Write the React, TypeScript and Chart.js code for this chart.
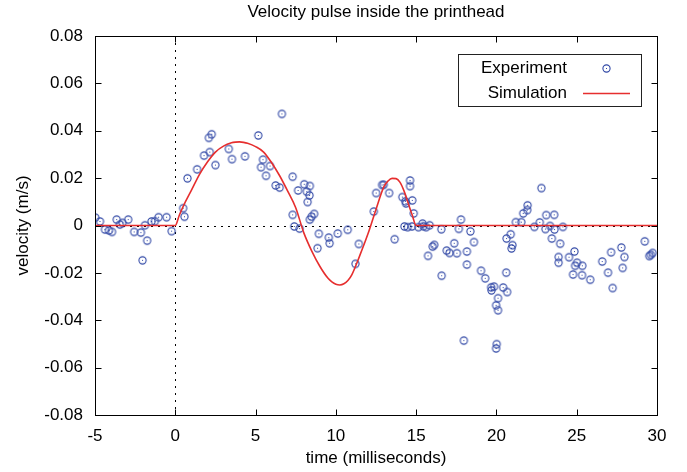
import React, { useEffect, useRef } from "react";
import { Chart, registerables } from "chart.js";

Chart.register(...registerables);

const chartTitle = "Velocity pulse inside the printhead";
const xAxisTitle = "time (milliseconds)";
const yAxisTitle = "velocity (m/s)";
const seriesNames = ["Experiment", "Simulation"];

const xTicks = [-5, 0, 5, 10, 15, 20, 25, 30];
const xTickLabels = ["-5", "0", "5", "10", "15", "20", "25", "30"];
const yTicks = [-0.08, -0.06, -0.04, -0.02, 0, 0.02, 0.04, 0.06, 0.08];
const yTickLabels = ["-0.08", "-0.06", "-0.04", "-0.02", "0", "0.02", "0.04", "0.06", "0.08"];

const expTime = [
  -4.98, -4.69, -4.38, -4.13, -3.94, -3.65, -3.45, -3.28, -2.93, -2.56,
  -2.14, -2.04, -1.89, -1.75, -1.48, -1.27, -1.04, -0.54, -0.23, 0.49,
  0.57, 0.76, 1.36, 1.79, 2.15, 2.09, 2.27, 2.5, 3.33, 3.53,
  4.34, 5.17, 6.64, 5.46, 5.34, 5.9, 5.65, 6.25, 6.5, 7.31,
  7.65, 8.03, 8.38, 8.19, 8.36, 8.24, 7.31, 8.65, 8.49, 8.38,
  7.41, 7.74, 8.94, 8.86, 9.56, 9.61, 10.12, 10.74, 11.43, 11.22,
  12.36, 12.51, 12.88, 12.98, 13.32, 13.66, 14.14, 14.33, 14.37, 14.62,
  14.62, 14.76, 14.85, 14.27, 14.47, 14.74, 15.14, 15.4, 15.45, 15.62,
  15.84, 16.57, 16.03, 16.13, 15.74, 16.59, 16.9, 17.08, 17.37, 17.54,
  17.79, 17.66, 18.16, 18.16, 18.38, 18.6, 17.97, 19.04, 19.3, 19.67,
  19.85, 19.69, 20.1, 19.98, 20.1, 20.02, 19.98, 20.42, 20.67, 20.61,
  20.63, 20.89, 21.0, 20.94, 21.21, 21.55, 21.67, 21.92, 21.94, 22.8,
  22.36, 22.7, 23.05, 23.1, 23.34, 23.6, 23.62, 23.45, 24.14, 23.97,
  23.87, 23.87, 24.52, 24.86, 24.9, 25.02, 24.77, 25.35, 25.33, 25.84,
  26.59, 26.95, 27.14, 27.24, 27.78, 27.97, 27.86, 29.24, 29.52, 29.62,
  29.73,
];
const expVelocity = [
  0.0033, 0.0017, -0.0017, -0.0021, -0.0027, 0.0025, 0.0004, 0.0011, 0.0025, -0.0027,
  -0.003, -0.0147, 0.0001, -0.0064, 0.0017, 0.0018, 0.0035, 0.0035, -0.0024, 0.0073,
  0.0037, 0.0199, 0.0237, 0.0295, 0.031, 0.037, 0.0385, 0.0255, 0.0323, 0.028,
  0.0292, 0.038, 0.0471, 0.0278, 0.0246, 0.0251, 0.021, 0.0169, 0.016, 0.0206,
  0.0148, 0.0174, 0.0167, 0.0143, 0.0127, 0.0099, 0.0045, 0.0049, 0.0037, 0.0025,
  -0.0004, -0.0013, -0.0035, -0.0096, -0.0051, -0.0075, -0.0034, -0.0018, -0.0078, -0.0162,
  0.0059, 0.0137, 0.0171, 0.0172, 0.0137, -0.0058, 0.012, 0.0102, 0.0093, 0.019,
  0.0166, 0.0106, 0.0051, -0.0004, -0.0007, -0.0004, -0.0007, 0.0008, -0.0003, -0.0007,
  0.0001, -0.0016, -0.0089, -0.0082, -0.0128, -0.0212, -0.0106, -0.0116, -0.0075, -0.0117,
  0.0025, -0.0014, -0.011, -0.0165, -0.0025, -0.007, -0.0486, -0.0191, -0.0223, -0.0261,
  -0.0258, -0.0274, -0.0307, -0.0337, -0.0358, -0.0501, -0.0519, -0.0262, -0.0281, -0.0199,
  -0.0055, -0.0037, -0.0083, -0.0097, 0.0014, 0.0014, 0.0051, 0.0065, 0.0085, 0.0158,
  -0.0006, 0.0013, -0.0015, 0.0044, -0.0002, 0.0045, -0.0017, -0.0055, -0.0006, -0.0077,
  -0.0133, -0.0157, -0.0134, -0.011, -0.017, -0.0157, -0.0207, -0.017, -0.021, -0.0229,
  -0.0152, -0.0199, -0.0113, -0.0264, -0.0093, -0.0133, -0.0179, -0.0067, -0.0129, -0.0124,
  -0.0116,
];

const simTime = [
  -5, 0, 0.25, 0.5, 1, 1.5, 2, 2.5, 3, 3.5, 3.75, 4, 4.25, 4.5, 5, 5.5, 6, 6.5, 7, 7.5, 8,
  8.5, 9, 9.5, 9.75, 10, 10.25, 10.5, 10.75, 11, 11.5, 12, 12.5, 13, 13.25, 13.5, 13.75,
  14, 14.25, 14.5, 14.75, 15, 30,
];
const simVelocity = [
  0, 0, 0.0043, 0.0082, 0.0148, 0.0215, 0.0268, 0.031, 0.0335, 0.0349, 0.0352, 0.0353,
  0.0351, 0.0347, 0.0333, 0.031, 0.0265, 0.021, 0.0145, 0.0075, -0.003, -0.0108, -0.0172,
  -0.0222, -0.0238, -0.0248, -0.0251, -0.0246, -0.0232, -0.0207, -0.0125, -0.0035, 0.0068,
  0.0165, 0.0188, 0.0199, 0.0198, 0.0182, 0.0145, 0.0095, 0.0045, 0, 0,
];

const FONT = '"Liberation Sans", Arial, Helvetica, sans-serif';
const BLUE = "#3148a6";
const RED = "#e62e2e";

function makeMarker(color: string): HTMLCanvasElement {
  const c = document.createElement("canvas");
  c.width = 11;
  c.height = 11;
  const g = c.getContext("2d")!;
  g.strokeStyle = color;
  g.lineWidth = 1.1;
  g.beginPath();
  g.arc(5.5, 5.5, 3.6, 0, Math.PI * 2);
  g.stroke();
  g.fillStyle = color;
  g.fillRect(5, 5, 1, 1);
  return c;
}

export default function App() {
  const ref = useRef<HTMLCanvasElement | null>(null);

  useEffect(() => {
    if (!ref.current) return;
    const marker = makeMarker(BLUE);

    const decor = {
      id: "decor",
      beforeDatasetsDraw(chart: any) {
        const { ctx, chartArea: a, scales } = chart;
        const x0 = Math.round(scales.x.getPixelForValue(0)) + 0.5;
        const y0 = Math.round(scales.y.getPixelForValue(0)) + 0.5;
        ctx.save();
        ctx.strokeStyle = "#000";
        ctx.lineWidth = 1;
        ctx.setLineDash([2, 5]);
        ctx.beginPath();
        ctx.moveTo(x0, a.top);
        ctx.lineTo(x0, a.bottom);
        ctx.moveTo(a.left, y0);
        ctx.lineTo(a.right, y0);
        ctx.stroke();
        ctx.restore();
      },
      afterDraw(chart: any) {
        const { ctx, chartArea: a, scales } = chart;
        const L = Math.round(a.left) + 0.5;
        const R = Math.round(a.right) + 0.5;
        const T = Math.round(a.top) + 0.5;
        const B = Math.round(a.bottom) + 0.5;
        ctx.save();
        ctx.strokeStyle = "#000";
        ctx.lineWidth = 1;
        ctx.setLineDash([]);
        ctx.strokeRect(L, T, R - L, B - T);
        const tl = 6;
        ctx.beginPath();
        xTicks.forEach((v) => {
          const px = Math.round(scales.x.getPixelForValue(v)) + 0.5;
          ctx.moveTo(px, B);
          ctx.lineTo(px, B - tl);
          ctx.moveTo(px, T);
          ctx.lineTo(px, T + tl);
        });
        yTicks.forEach((v) => {
          const py = Math.round(scales.y.getPixelForValue(v)) + 0.5;
          ctx.moveTo(L, py);
          ctx.lineTo(L + tl, py);
          ctx.moveTo(R, py);
          ctx.lineTo(R - tl, py);
        });
        ctx.stroke();

        // titles
        ctx.fillStyle = "#000";
        ctx.font = `17px ${FONT}`;
        ctx.textAlign = "center";
        ctx.textBaseline = "middle";
        const cx = (a.left + a.right) / 2;
        ctx.fillText(chartTitle, cx, 12);
        ctx.fillText(xAxisTitle, cx, 458);
        ctx.save();
        ctx.translate(23, (a.top + a.bottom) / 2);
        ctx.rotate(-Math.PI / 2);
        ctx.fillText(yAxisTitle, 0, 0);
        ctx.restore();

        // legend
        const bx = Math.round(a.right - 16) + 0.5;
        const bl = Math.round(a.right - 199) + 0.5;
        const bt = Math.round(a.top + 18) + 0.5;
        const bb = bt + 52;
        ctx.fillStyle = "#fff";
        ctx.fillRect(bl, bt, bx - bl, bb - bt);
        ctx.strokeStyle = "#222";
        ctx.strokeRect(bl, bt, bx - bl, bb - bt);
        ctx.fillStyle = "#000";
        ctx.textAlign = "right";
        const textX = a.right - 90;
        const row1 = bt + 13.5;
        const row2 = bt + 38.5;
        ctx.fillText(seriesNames[0], textX, row1);
        ctx.fillText(seriesNames[1], textX, row2);
        ctx.drawImage(marker, Math.round(a.right - 51) - 5, Math.round(row1) - 5);
        ctx.strokeStyle = RED;
        ctx.lineWidth = 1.6;
        ctx.beginPath();
        ctx.moveTo(a.right - 74, Math.round(row2) + 0.5);
        ctx.lineTo(a.right - 27, Math.round(row2) + 0.5);
        ctx.stroke();
        ctx.restore();
      },
    };

    const chart = new Chart(ref.current, {
      type: "scatter",
      data: {
        datasets: [
          {
            label: seriesNames[1],
            data: simTime.map((t, i) => ({ x: t, y: simVelocity[i] })),
            showLine: true,
            borderColor: RED,
            borderWidth: 1.6,
            pointRadius: 0,
            fill: false,
            cubicInterpolationMode: "monotone",
            order: 0,
          },
          {
            label: seriesNames[0],
            data: expTime.map((t, i) => ({ x: t, y: expVelocity[i] })),
            showLine: false,
            pointStyle: marker,
            pointRadius: 4,
            borderColor: BLUE,
            backgroundColor: BLUE,
            order: 1,
          },
        ],
      },
      options: {
        responsive: false,
        animation: false,
        devicePixelRatio: 1,
        layout: { padding: { top: 36, right: 30, left: 0, bottom: 0 }, autoPadding: false },
        plugins: {
          legend: { display: false },
          title: { display: false },
          tooltip: { enabled: false },
        },
        scales: {
          x: {
            type: "linear",
            min: -5,
            max: 30,
            afterBuildTicks: (s: any) => {
              s.ticks = xTicks.map((v) => ({ value: v }));
            },
            afterFit: (s: any) => {
              s.height = 57;
            },
            grid: { display: false, drawTicks: false },
            border: { display: false },
            ticks: {
              color: "#000",
              font: { family: FONT, size: 17 },
              padding: 11,
              maxRotation: 0,
              autoSkip: false,
              callback: (v: any) => {
                const i = xTicks.indexOf(Number(v));
                return i >= 0 ? xTickLabels[i] : "";
              },
            },
          },
          y: {
            type: "linear",
            min: -0.08,
            max: 0.08,
            afterBuildTicks: (s: any) => {
              s.ticks = yTicks.map((v) => ({ value: v }));
            },
            afterFit: (s: any) => {
              s.width = 95;
            },
            grid: { display: false, drawTicks: false },
            border: { display: false },
            ticks: {
              color: "#000",
              font: { family: FONT, size: 17 },
              padding: 12,
              autoSkip: false,
              callback: (v: any) => {
                const i = yTicks.findIndex((t) => Math.abs(t - Number(v)) < 1e-9);
                return i >= 0 ? yTickLabels[i] : "";
              },
            },
          },
        },
      },
      plugins: [decor],
    } as any);

    return () => chart.destroy();
  }, []);

  return (
    <div style={{ position: "absolute", left: 0, top: 0, width: 687, height: 472, background: "#fff" }}>
      <canvas ref={ref} width={687} height={472} style={{ display: "block" }} />
    </div>
  );
}
